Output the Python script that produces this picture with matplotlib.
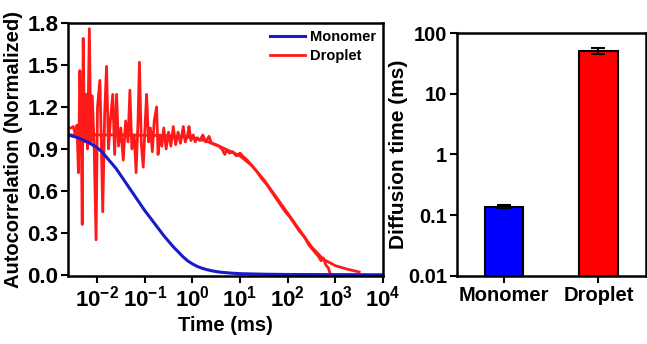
import numpy as np
import matplotlib
matplotlib.use("Agg")
import matplotlib.pyplot as plt

plt.rcParams['font.family'] = ['Liberation Sans', 'DejaVu Sans']
plt.rcParams['font.weight'] = 'bold'
plt.rcParams['mathtext.fontset'] = 'custom'
plt.rcParams['mathtext.rm'] = 'Liberation Sans:bold'
plt.rcParams['mathtext.bf'] = 'Liberation Sans:bold'
plt.rcParams['mathtext.it'] = 'Liberation Sans:bold'

# monomer autocorrelation (log10 time in ms, value)
mono_logt = [-2.6, -2.5, -2.4, -2.3, -2.2, -2.1, -2.0, -1.9, -1.8, -1.7, -1.6,
             -1.5, -1.4, -1.3, -1.2, -1.1, -1.0, -0.9, -0.8, -0.7, -0.6, -0.5,
             -0.4, -0.3, -0.2, -0.1, 0.0, 0.1, 0.2, 0.3, 0.4, 0.5, 0.6, 0.8,
             1.0, 1.5, 2.0, 3.0, 4.0]
mono_g = [1.00, 0.99, 0.98, 0.965, 0.95, 0.93, 0.91, 0.88, 0.84, 0.80, 0.76,
          0.71, 0.66, 0.61, 0.56, 0.51, 0.46, 0.415, 0.37, 0.325, 0.28, 0.24,
          0.20, 0.165, 0.13, 0.10, 0.078, 0.06, 0.047, 0.037, 0.029, 0.023, 0.018, 0.012,
          0.008, 0.004, 0.002, 0.001, 0.0]

# droplet fit curve
fit_logt = [-2.55, -1.5, -0.5, 0.0, 0.25, 0.5, 0.75, 1.0, 1.25, 1.5, 1.75,
            2.0, 2.25, 2.5, 2.75, 3.0, 3.25, 3.5]
fit_g = [1.0, 1.0, 0.995, 0.98, 0.96, 0.93, 0.89, 0.85, 0.78, 0.68, 0.56,
         0.44, 0.32, 0.20, 0.11, 0.065, 0.04, 0.02]

# droplet measured autocorrelation
drop_logt = [-2.55, -2.50, -2.45, -2.42, -2.39, -2.36, -2.33, -2.31, -2.29, -2.26,
             -2.23, -2.20, -2.16, -2.13, -2.10, -2.06, -2.02, -1.99, -1.94, -1.91,
             -1.88, -1.84, -1.80, -1.76, -1.72, -1.67, -1.63, -1.59, -1.55, -1.50,
             -1.45, -1.40, -1.35, -1.31, -1.27, -1.22, -1.18, -1.14, -1.11, -1.07,
             -1.03, -0.99, -0.96, -0.92, -0.88, -0.84, -0.80, -0.75, -0.72, -0.68,
             -0.64, -0.60, -0.55, -0.50, -0.45, -0.40, -0.35, -0.30, -0.25, -0.19,
             -0.15, -0.10, -0.07, -0.03, 0.02, 0.06, 0.10, 0.16, 0.22, 0.28,
             0.35, 0.40, 0.48, 0.55, 0.62, 0.68, 0.72, 0.78, 0.85, 0.92,
             1.00, 1.05, 1.15, 1.25, 1.35, 1.45, 1.55, 1.65, 1.75, 1.85,
             1.95, 2.05, 2.15, 2.25, 2.35, 2.45, 2.55, 2.60, 2.65, 2.70,
             2.75, 2.80, 2.85, 2.88, 2.90]
drop_g = [1.05, 1.06, 1.00, 1.07, 0.73, 1.46, 1.00, 0.36, 1.69, 0.95,
          1.29, 0.90, 1.76, 0.95, 1.28, 0.92, 0.25, 1.20, 1.39, 0.95,
          0.45, 1.15, 1.49, 0.90, 1.10, 1.29, 0.86, 1.29, 0.92, 1.05,
          0.82, 1.10, 0.95, 1.32, 0.90, 1.00, 0.73, 1.10, 1.52, 0.93,
          0.77, 1.08, 1.29, 0.95, 1.05, 0.88, 1.10, 1.20, 0.86, 1.00,
          0.92, 1.05, 0.90, 1.02, 0.92, 1.06, 0.93, 1.02, 0.94, 1.06,
          0.95, 1.00, 1.06, 0.96, 1.00, 0.95, 0.98, 0.96, 1.00, 0.95,
          0.99, 0.94, 0.93, 0.92, 0.90, 0.86, 0.89, 0.87, 0.88, 0.85,
          0.87, 0.85, 0.82, 0.78, 0.74, 0.69, 0.65, 0.60, 0.55, 0.50,
          0.45, 0.41, 0.36, 0.31, 0.27, 0.21, 0.17, 0.15, 0.13, 0.10,
          0.12, 0.07, 0.05, 0.02, 0.0]

# diffusion times
samples = ['Monomer', 'Droplet']
diff_time = [0.137, 51.0]
diff_err = [0.008, 6.0]
bar_colors = ['#0000ff', '#ff0000']

fig = plt.figure(figsize=(6.47, 3.44), dpi=100)

ax1 = fig.add_axes([0.105, 0.198, 0.487, 0.735])
ax1.plot(10**np.array(drop_logt), drop_g, color='#ff1a1a', lw=2.0, label='Droplet')
ax1.plot(10**np.array(fit_logt), fit_g, color='#ff1a1a', lw=2.0)
ax1.plot(10**np.array(mono_logt), mono_g, color='#1a1acc', lw=2.2, label='Monomer')
ax1.set_xscale('log')
ax1.set_xlim(10**-2.61, 1e4)
ax1.set_ylim(-0.008, 1.8)
ax1.set_xticks([1e-2, 1e-1, 1, 1e1, 1e2, 1e3, 1e4])
ax1.set_xticklabels([r'$10^{-2}$', r'$10^{-1}$', r'$10^{0}$', r'$10^{1}$',
                     r'$10^{2}$', r'$10^{3}$', r'$10^{4}$'])
ax1.minorticks_off()
ax1.set_yticks([0.0, 0.3, 0.6, 0.9, 1.2, 1.5, 1.8])
ax1.set_yticklabels(['0.0', '0.3', '0.6', '0.9', '1.2', '1.5', '1.8'])
ax1.set_xlabel('Time (ms)', fontsize=14.5, fontweight='bold', labelpad=3)
ax1.set_ylabel('Autocorrelation (Normalized)', fontsize=14.5, fontweight='bold', labelpad=3)
h, l = ax1.get_legend_handles_labels()
ax1.legend(h[::-1], l[::-1], loc='upper right', frameon=False, fontsize=10.5,
           handlelength=2.4, handletextpad=0.3, borderaxespad=0.1, labelspacing=0.3)

ax2 = fig.add_axes([0.706, 0.198, 0.292, 0.706])
ax2.bar([0, 1], diff_time, width=0.41, color=bar_colors, edgecolor='black', lw=1.5,
        yerr=diff_err, error_kw=dict(ecolor='black', elinewidth=1.5, capsize=5, capthick=1.5))
ax2.set_yscale('log')
ax2.set_ylim(0.01, 100)
ax2.set_xlim(-0.5, 1.5)
ax2.set_yticks([0.01, 0.1, 1, 10, 100])
ax2.set_yticklabels(['0.01', '0.1', '1', '10', '100'])
ax2.minorticks_off()
ax2.set_xticks([0, 1])
ax2.set_xticklabels(samples)
ax2.set_ylabel('Diffusion time (ms)', fontsize=15, fontweight='bold', labelpad=0)

for ax, fs in ((ax1, 16), (ax2, 14.5)):
    for s in ax.spines.values():
        s.set_linewidth(1.8)
    ax.tick_params(direction='out', length=5, width=1.5, labelsize=fs, pad=2)
    for lab in ax.get_xticklabels() + ax.get_yticklabels():
        lab.set_fontweight('bold')

fig.savefig('out.png', dpi=100)
